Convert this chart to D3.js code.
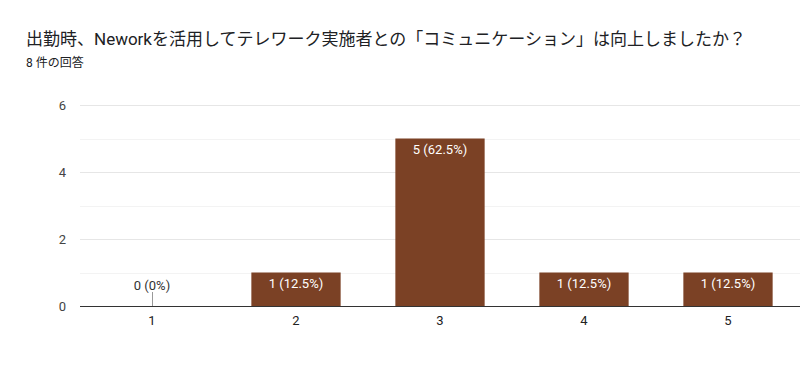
<!DOCTYPE html>
<html>
<head>
<meta charset="utf-8">
<script src="https://cdn.jsdelivr.net/npm/d3@7"></script>
<style>
  body { margin: 0; background: #fff; }
  svg text { font-family: Roboto, "Noto Sans CJK JP", sans-serif; }
</style>
</head>
<body>
<svg id="chart" width="800" height="389"></svg>
<script>
// data
var categories = ['1', '2', '3', '4', '5'];
var counts = [0, 1, 5, 1, 1];
var labels = ['0 (0%)', '1 (12.5%)', '5 (62.5%)', '1 (12.5%)', '1 (12.5%)'];
var yTicks = [0, 2, 4, 6];
var yMinor = [1, 3, 5];
var title = '出勤時、Neworkを活用してテレワーク実施者との「コミュニケーション」は向上しましたか？';
var subtitle = '8 件の回答';

var svg = d3.select('#chart');
var plotLeft = 80, plotRight = 800, plotTop = 105, plotBottom = 306;
var chartFont = '"Liberation Sans", Arial, sans-serif';

// title
svg.append('text')
  .attr('x', 26)
  .attr('y', 45)
  .attr('font-size', 17)
  .attr('fill', '#202124')
  .text(title);
svg.append('text')
  .attr('x', 26)
  .attr('y', 67)
  .attr('font-size', 12)
  .attr('fill', '#202124')
  .text(subtitle);

var x = d3.scaleBand()
  .domain(categories)
  .range([plotLeft, plotRight])
  .paddingInner(0.38)
  .paddingOuter(0.19);

var y = d3.scaleLinear()
  .domain([0, 6])
  .range([plotBottom, plotTop]);

// gridlines
svg.append('g').selectAll('line')
  .data(yMinor)
  .enter().append('line')
  .attr('x1', plotLeft).attr('x2', plotRight)
  .attr('y1', function(d) { return Math.round(y(d)) + 0.5; })
  .attr('y2', function(d) { return Math.round(y(d)) + 0.5; })
  .attr('stroke', '#f3f3f3');
svg.append('g').selectAll('line')
  .data(yTicks.filter(function(d) { return d > 0; }))
  .enter().append('line')
  .attr('x1', plotLeft).attr('x2', plotRight)
  .attr('y1', function(d) { return Math.round(y(d)) + 0.5; })
  .attr('y2', function(d) { return Math.round(y(d)) + 0.5; })
  .attr('stroke', '#e6e6e6');

// y tick labels
var yAxis = svg.append('g')
  .attr('transform', 'translate(' + (plotLeft - 14) + ',0)')
  .call(d3.axisLeft(y).tickValues(yTicks).tickFormat(d3.format('d')).tickSize(0).tickPadding(0));
yAxis.select('.domain').remove();
yAxis.selectAll('text')
  .attr('font-size', 13)
  .attr('fill', '#444')
  .attr('font-family', chartFont);

// bars
var bars = svg.append('g').selectAll('g')
  .data(categories)
  .enter().append('g');

bars.append('rect')
  .attr('x', function(d) { return x(d); })
  .attr('y', function(d, i) { return y(counts[i]); })
  .attr('width', x.bandwidth())
  .attr('height', function(d, i) { return plotBottom - y(counts[i]); })
  .attr('fill', '#7b4125');

// zero-value stub
bars.filter(function(d, i) { return counts[i] === 0; })
  .append('line')
  .attr('x1', function(d) { return Math.round(x(d) + x.bandwidth() / 2) + 0.5; })
  .attr('x2', function(d) { return Math.round(x(d) + x.bandwidth() / 2) + 0.5; })
  .attr('y1', plotBottom - 14)
  .attr('y2', plotBottom)
  .attr('stroke', '#999');

bars.append('text')
  .attr('x', function(d) { return x(d) + x.bandwidth() / 2; })
  .attr('y', function(d, i) { return counts[i] === 0 ? plotBottom - 16 : y(counts[i]) + 15; })
  .attr('text-anchor', 'middle')
  .attr('font-size', 13)
  .attr('font-family', chartFont)
  .attr('fill', function(d, i) { return counts[i] === 0 ? '#333' : '#fff'; })
  .text(function(d, i) { return labels[i]; });

// x axis
svg.append('line')
  .attr('x1', plotLeft).attr('x2', plotRight)
  .attr('y1', plotBottom + 0.5).attr('y2', plotBottom + 0.5)
  .attr('stroke', '#333')
  .attr('stroke-width', 1.2);

var xAxis = svg.append('g')
  .attr('transform', 'translate(0,' + (plotBottom + 10) + ')')
  .call(d3.axisBottom(x).tickSize(0).tickPadding(0));
xAxis.select('.domain').remove();
xAxis.selectAll('text')
  .attr('font-size', 13)
  .attr('fill', '#222')
  .attr('font-family', chartFont);
</script>
</body>
</html>
